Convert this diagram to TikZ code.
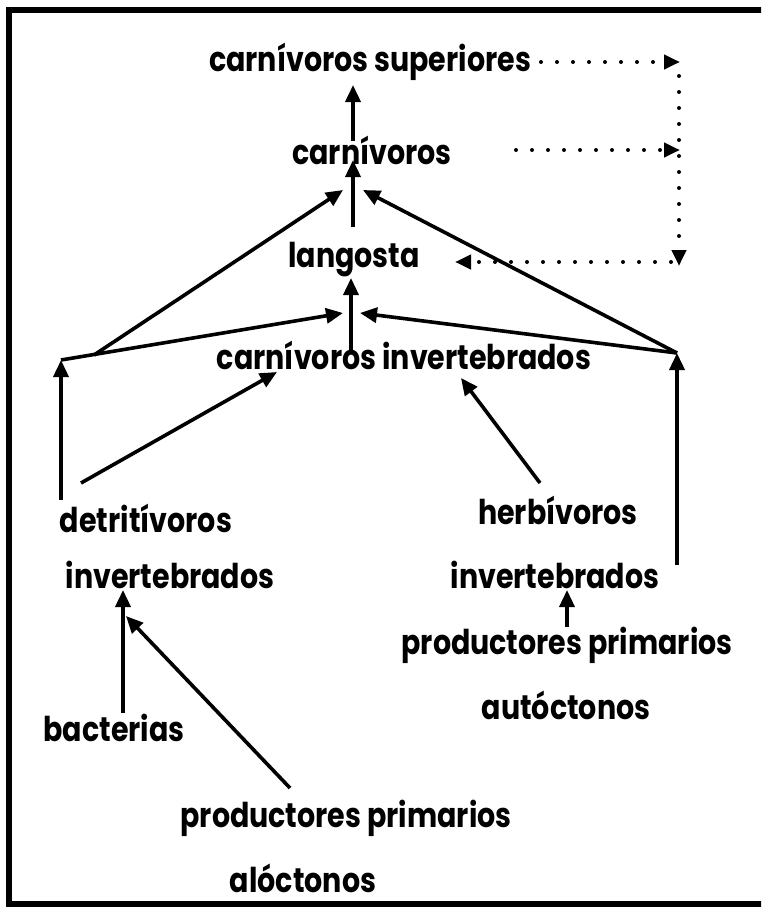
\documentclass[tikz,border=0pt]{standalone}
\usepackage{fontspec}
\setmainfont{Poppins}
\usetikzlibrary{arrows.meta}
\newcommand\tallt[1]{\scalebox{1}[1.2]{#1}}
\begin{document}
\begin{tikzpicture}[x=1pt,y=-1pt,
 lbl/.style={inner sep=0pt,font=\fontsize{28.5}{30}\selectfont\bfseries},
 arr/.style={line width=3.6pt,-{Triangle[length=17pt,width=15pt]}},
 dotarr/.style={line width=4pt,dash pattern=on 0pt off 16pt,line cap=round,-{Triangle[length=16pt,width=14pt]}}]
\useasboundingbox (0,0) rectangle (761,907);
\clip (0,0) rectangle (761,907);
\draw[line width=5.5pt] (780,10) -- (9,10) -- (9,904) -- (780,904);
% labels
\node[lbl] (cs) at (370,62) {\tallt{carnívoros superiores}};
\node[lbl] (ca) at (372,150) {\tallt{carnívoros}};
\node[lbl] (la) at (354,260) {\tallt{langosta}};
\node[lbl] (ci) at (404,355) {\tallt{carnívoros invertebrados}};
\node[lbl] (de) at (146,518) {\tallt{detritívoros}};
\node[lbl] (di) at (170,575) {\tallt{invertebrados}};
\node[lbl] (he) at (558,510) {\tallt{herbívoros}};
\node[lbl] (hi) at (555,575) {\tallt{invertebrados}};
\node[lbl] (pa) at (567,645) {\tallt{productores primarios}};
\node[lbl] (au) at (566,705) {\tallt{autóctonos}};
\node[lbl] (ba) at (114,728) {\tallt{bacterias}};
\node[lbl] (pl) at (346,818) {\tallt{productores primarios}};
\node[lbl] (al) at (303,878) {\tallt{alóctonos}};
% points
\coordinate (caS) at (353,141);
\coordinate (csT) at (353,85);
\coordinate (laS) at (353,227);
\coordinate (caT) at (353,160);
\coordinate (caTl) at (343,190);
\coordinate (caTr) at (363,190);
\coordinate (ciS) at (351,353);
\coordinate (laT) at (351,278);
\coordinate (laTl) at (343,313);
\coordinate (laTr) at (360,313);
\coordinate (jl) at (61,360);
\coordinate (jl2) at (94,355);
\coordinate (jr) at (677,353);
\coordinate (deS) at (61,500);
\coordinate (hiS) at (677,565);
\coordinate (deD) at (81,483);
\coordinate (ciTl) at (277,372);
\coordinate (heD) at (540,483);
\coordinate (ciTr) at (461,378);
\coordinate (baS) at (123,713);
\coordinate (diT) at (123,590);
\coordinate (plS) at (290,788);
\coordinate (diTr) at (126,616);
\coordinate (paS) at (567,627);
\coordinate (hiT) at (567,590);
% solid arrows
\draw[arr] (caS) -- (csT);
\draw[arr] (laS) -- (caT);
\draw[arr] (ciS) -- (laT);
\draw[arr] (jl) -- (laTl);
\draw[arr] (jl2) -- (caTl);
\draw[arr] (jr) -- (laTr);
\draw[arr] (jr) -- (caTr);
\draw[arr] (deS) -- (jl);
\draw[arr] (hiS) -- (jr);
\draw[arr] (deD) -- (ciTl);
\draw[arr] (heD) -- (ciTr);
\draw[arr] (baS) -- (diT);
\draw[arr] (plS) -- (diTr);
\draw[arr] (paS) -- (hiT);
% dotted arrows
\coordinate (d1s) at (541,62);
\coordinate (d1e) at (680,62);
\coordinate (d2s) at (516,150);
\coordinate (d2e) at (680,150);
\coordinate (d3s) at (679,76);
\coordinate (d3e) at (679,266);
\coordinate (d4s) at (671,262);
\coordinate (d4e) at (455,262);
\draw[dotarr] (d1s) -- (d1e);
\draw[dotarr] (d2s) -- (d2e);
\draw[dotarr] (d3s) -- (d3e);
\draw[dotarr] (d4s) -- (d4e);
\end{tikzpicture}
\end{document}
